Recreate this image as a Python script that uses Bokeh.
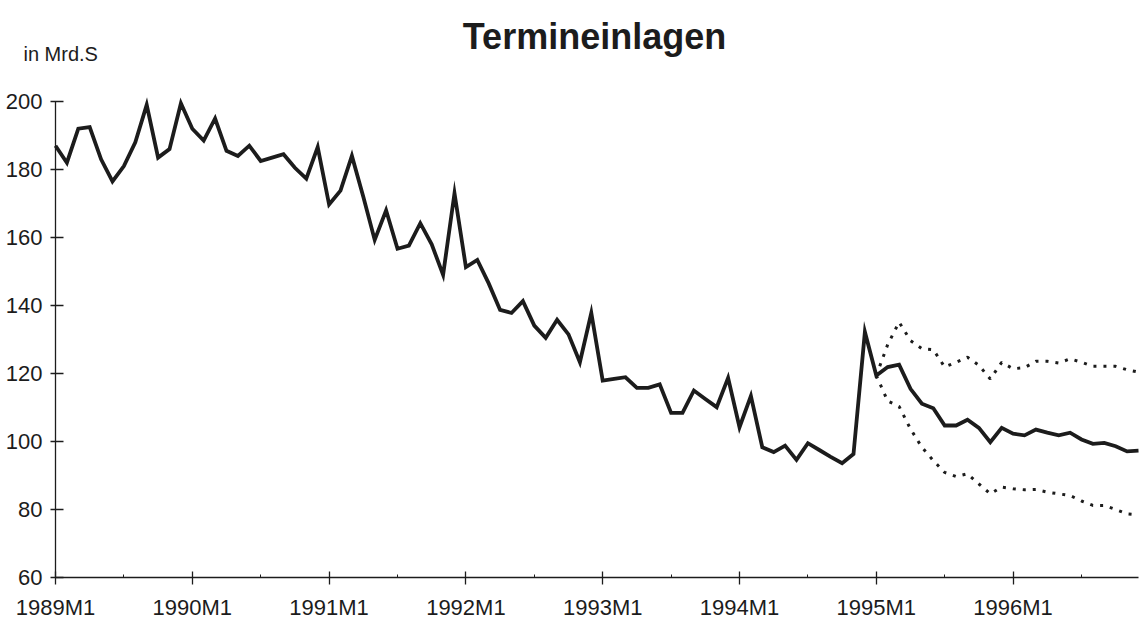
from bokeh.plotting import figure
from bokeh.models import Range1d, FixedTicker, Label
from bokeh.embed import file_html
from bokeh.resources import INLINE

# ---- data (monthly, 1989M1 .. 1996M12) ----
values = [
    187.0, 182.0, 192.0, 192.5, 183.0, 176.5, 181.0, 188.0, 199.0, 183.5, 186.0, 199.5,   # 1989
    192.0, 188.5, 195.0, 185.5, 184.0, 187.0, 182.5, 183.5, 184.5, 180.5, 177.3, 186.6,   # 1990
    169.7, 173.8, 184.0, 172.0, 159.3, 168.0, 156.7, 157.6, 164.2, 158.0, 149.0, 173.0,   # 1991
    151.3, 153.4, 146.5, 138.7, 137.8, 141.3, 134.1, 130.5, 135.8, 131.5, 123.3, 137.8,   # 1992
    117.9, 118.4, 118.9, 115.8, 115.8, 116.8, 108.4, 108.4, 115.0, 112.5, 110.1, 118.7,   # 1993
    104.2, 113.4, 98.3, 96.9, 98.8, 94.6, 99.5, 97.5, 95.5, 93.6, 96.3, 132.2,            # 1994
    119.4, 121.9, 122.6, 115.5, 111.1, 109.8, 104.7, 104.7, 106.4, 104.0, 99.8, 104.0,    # 1995
    102.3, 101.8, 103.5, 102.6, 101.8, 102.6, 100.6, 99.3, 99.6, 98.6, 97.1, 97.3,        # 1996
]
band_start = 72  # 1995M1
upper = [119.4, 128.5, 135.1, 129.7, 127.3, 127.0, 121.9, 123.3, 124.8, 122.4, 118.4, 123.3,
         121.4, 121.7, 123.6, 123.6, 123.1, 124.3, 123.3, 122.1, 122.1, 122.1, 121.1, 120.4]
lower = [119.4, 111.9, 110.3, 103.7, 98.3, 94.4, 90.9, 89.7, 90.5, 87.5, 84.6, 86.6,
         86.1, 85.8, 85.9, 85.1, 84.6, 84.1, 82.5, 81.2, 81.2, 80.0, 78.7, 78.4]
year_labels = ["1989M1", "1990M1", "1991M1", "1992M1", "1993M1", "1994M1", "1995M1", "1996M1"]
y_ticks = [60, 80, 100, 120, 140, 160, 180, 200]

x = list(range(len(values)))
xb = list(range(band_start, band_start + len(upper)))

FONT = "Liberation Sans"
INK = "#1c1c1c"

# ---- layout (pixels on the 1139x621 canvas) ----
W, H = 1139, 621
X0_PX, X1_PX = 55.0, 1138.0        # first / last month
Y_LO_PX, Y_HI_PX = 577.0, 101.0    # value 60 / value 200
n_last = len(values) - 1
y_lo, y_hi = y_ticks[0], y_ticks[-1]
sx = (X1_PX - X0_PX) / n_last
sy = (Y_LO_PX - Y_HI_PX) / (y_hi - y_lo)


def dx(px):
    return (px - X0_PX) / sx


def dy(py):
    return y_hi - (py - Y_HI_PX) / sy


p = figure(width=W, height=H, output_backend="svg", toolbar_location=None,
           x_range=Range1d(dx(0), dx(W)), y_range=Range1d(dy(H), dy(0)),
           min_border_left=0, min_border_right=0, min_border_top=0, min_border_bottom=0)
p.background_fill_color = "white"
p.border_fill_color = "white"
p.outline_line_color = None
p.xgrid.visible = False
p.ygrid.visible = False

p.line(x, values, line_color=INK, line_width=3.8, line_join="miter")
p.line(xb, upper, line_color=INK, line_width=3.0, line_dash="3 7")
p.line(xb, lower, line_color=INK, line_width=3.0, line_dash="3 7")

# x axis
major = [12 * i for i in range(len(year_labels))]
minor = [12 * i + 6 for i in range(len(year_labels))]
p.xaxis.fixed_location = y_lo
p.xaxis.bounds = (0, n_last)
p.xaxis.ticker = FixedTicker(ticks=major, minor_ticks=minor)
p.xaxis.major_label_overrides = {m: lab for m, lab in zip(major, year_labels)}
p.xaxis.axis_line_color = INK
p.xaxis.axis_line_width = 1.3
p.xaxis.major_tick_line_color = INK
p.xaxis.major_tick_line_width = 1.3
p.xaxis.major_tick_in = 6
p.xaxis.major_tick_out = 7
p.xaxis.minor_tick_line_color = INK
p.xaxis.minor_tick_in = 3
p.xaxis.minor_tick_out = 0
p.xaxis.major_label_standoff = 10
p.xaxis.major_label_text_font = FONT
p.xaxis.major_label_text_font_size = "22px"
p.xaxis.major_label_text_color = INK

# y axis
p.yaxis.fixed_location = 0
p.yaxis.bounds = (y_lo, y_hi)
p.yaxis.ticker = FixedTicker(ticks=y_ticks, minor_ticks=[])
p.yaxis.axis_line_color = INK
p.yaxis.axis_line_width = 1.3
p.yaxis.major_tick_line_color = INK
p.yaxis.major_tick_line_width = 1.3
p.yaxis.major_tick_in = 8
p.yaxis.major_tick_out = 5
p.yaxis.minor_tick_line_color = None
p.yaxis.major_label_standoff = 8
p.yaxis.major_label_text_font = FONT
p.yaxis.major_label_text_font_size = "22px"
p.yaxis.major_label_text_color = INK

# title and unit label
p.add_layout(Label(x=dx(594), y=dy(36), text="Termineinlagen",
                   text_align="center", text_baseline="alphabetic",
                   text_font=FONT, text_font_style="bold", text_font_size="36px",
                   text_color=INK))
p.add_layout(Label(x=dx(23), y=dy(53), text="in Mrd.S",
                   text_align="left", text_baseline="alphabetic",
                   text_font=FONT, text_font_size="20px", text_color=INK))

open("out.html", "w").write(file_html(p, INLINE))
